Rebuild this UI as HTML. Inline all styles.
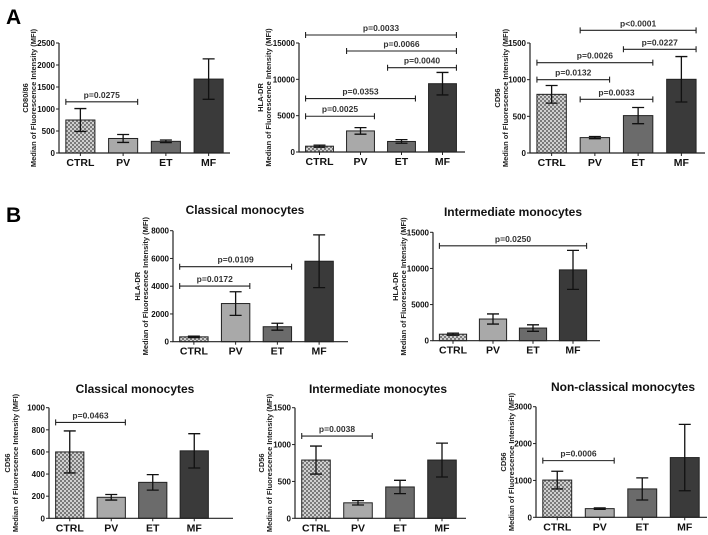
<!DOCTYPE html>
<html><head><meta charset="utf-8">
<style>
html,body{margin:0;padding:0;background:#fff;}
svg{display:block;font-family:"Liberation Sans",Arial,sans-serif;}
</style></head>
<body>
<svg id="fig" width="708" height="535" viewBox="0 0 708 535" xmlns="http://www.w3.org/2000/svg">
<defs>
<pattern id="chk" width="4" height="4" patternUnits="userSpaceOnUse">
<rect width="4" height="4" fill="#d0d0d0"/>
<rect width="2" height="2" fill="#7a7a7a"/>
<rect x="2" y="2" width="2" height="2" fill="#7a7a7a"/>
</pattern>
</defs>
<text x="6" y="24" font-size="21" font-weight="bold">A</text>
<text x="6" y="222" font-size="21" font-weight="bold">B</text>
</svg>
<script>
const categories = ["CTRL","PV","ET","MF"];

const a1Means = [750,330,265,1680];
const a1Errs = [260,90,30,460];
const a1Ticks = [0,500,1000,1500,2000,2500];
const a1Sig = [[0,1,1163,"p=0.0275"]];

const a2Means = [800,2900,1450,9400];
const a2Errs = [150,450,250,1550];
const a2Ticks = [0,5000,10000,15000];
const a2Sig = [[0,3,16100,"p=0.0033"],[1,3,13900,"p=0.0066"],[2,3,11600,"p=0.0040"],[0,2,7360,"p=0.0353"],[0,1,4920,"p=0.0025"]];

const a3Means = [800,210,510,1005];
const a3Errs = [120,15,110,310];
const a3Ticks = [0,500,1000,1500];
const a3Sig = [[1,3,1673,"p<0.0001"],[2,3,1414,"p=0.0227"],[0,2,1232,"p=0.0026"],[0,1,1000,"p=0.0132"],[1,2,732,"p=0.0033"]];

const b1Means = [350,2750,1080,5800];
const b1Errs = [50,850,250,1900];
const b1Ticks = [0,2000,4000,6000,8000];
const b1Sig = [[0,2,5405,"p=0.0109"],[0,1,4011,"p=0.0172"]];

const b2Means = [900,3000,1750,9800];
const b2Errs = [150,700,450,2700];
const b2Ticks = [0,5000,10000,15000];
const b2Sig = [[0,3,13125,"p=0.0250"]];

const c1Means = [600,190,325,610];
const c1Errs = [190,25,70,155];
const c1Ticks = [0,200,400,600,800,1000];
const c1Sig = [[0,1,867,"p=0.0463"]];

const c2Means = [790,210,425,790];
const c2Errs = [190,30,90,230];
const c2Ticks = [0,500,1000,1500];
const c2Sig = [[0,1,1116,"p=0.0038"]];

const c3Means = [1010,235,770,1620];
const c3Errs = [240,20,300,900];
const c3Ticks = [0,1000,2000,3000];
const c3Sig = [[0,1,1537,"p=0.0006"]];

const fills = ["url(#chk)","#a9a9a9","#6b6b6b","#3a3a3a"];
const svg = document.getElementById('fig');
const NS = "http://www.w3.org/2000/svg";
function mk(tag, attrs, parent){const e=document.createElementNS(NS,tag);for(const k in attrs)e.setAttribute(k,attrs[k]);(parent||svg).appendChild(e);return e;}

function panel(id, g, means, errs, ticks, sigs, marker, title){
  const grp = mk('g',{});
  
  
  const max = ticks[ticks.length-1];
  const y = v => g.y0 - (v/max)*(g.y0-g.yTop);
  const slot = g.w/categories.length;
  const cx = i => g.x0 + slot*(i+0.5);
  const bw = slot*0.68;
  means.forEach((m,i)=>{
    const r = mk('rect',{x:cx(i)-bw/2,y:y(m),width:bw,height:g.y0-y(m),fill:fills[i],stroke:'#222','stroke-width':1},grp);
    
    
    const e = mk('path',{d:`M${cx(i)},${y(m+errs[i])}V${y(m-errs[i])}M${cx(i)-6},${y(m+errs[i])}h12M${cx(i)-6},${y(m-errs[i])}h12`,stroke:'#111','stroke-width':1.3,fill:'none'},grp);
    
    
    const t = mk('text',{x:cx(i),y:g.y0+13,'font-size':10.5,'font-weight':'bold','text-anchor':'middle',fill:'#111'},grp);
    t.textContent = categories[i];
    
    
    mk('line',{x1:cx(i),x2:cx(i),y1:g.y0,y2:g.y0+3,stroke:'#222'},grp);
  });
  const ax = mk('path',{d:`M${g.x0},${g.yTop}V${g.y0}H${g.xEnd}`,stroke:'#222','stroke-width':1.2,fill:'none'},grp);
  
  
  ticks.forEach(v=>{
    mk('line',{x1:g.x0-3,x2:g.x0,y1:y(v),y2:y(v),stroke:'#222'},grp);
    const t = mk('text',{x:g.x0-4,y:y(v)+3,'font-size':8,'font-weight':'bold','text-anchor':'end',fill:'#111'},grp);
    t.textContent = v;
    
    
  });
  const my = (g.y0+g.yTop)/2;
  const R = g.x0 - g.tOff + 1;
  const yt = mk('text',{transform:`translate(${R-8},${my}) rotate(-90)`,'font-size':7.5,'font-weight':'bold','text-anchor':'middle',fill:'#222'},grp);
  
  
  const s1 = mk('tspan',{x:0,dy:0},yt); s1.textContent = marker;
  const s2 = mk('tspan',{x:0,dy:8},yt); s2.textContent = "Median of Fluorescence Intensity (MFI)";
  sigs.forEach(s=>{
    const xa = cx(s[0])-bw/2, xb = cx(s[1])+bw/2, yy = y(s[2]);
    const b = mk('path',{d:`M${xa},${yy}H${xb}M${xa},${yy-3}v6M${xb},${yy-3}v6`,stroke:'#222','stroke-width':1.1,fill:'none'},grp);
    
    
    const t = mk('text',{x:(xa+xb)/2,y:yy-4,'font-size':8.5,'font-weight':'bold','text-anchor':'middle',fill:'#333'},grp);
    t.textContent = s[3];
    
    
  });
  if(title){
    const t = mk('text',{x:g.tx,y:g.ty,'font-size':12,'font-weight':'bold','text-anchor':'middle',fill:'#111'},grp);
    t.textContent = title;
    
    
  }
}

panel('a1',{x0:59,w:171,xEnd:230,y0:153,yTop:43,tOff:24},a1Means,a1Errs,a1Ticks,a1Sig,"CD80/86");
panel('a2',{x0:299,w:164,xEnd:465,y0:152,yTop:43,tOff:29},a2Means,a2Errs,a2Ticks,a2Sig,"HLA-DR");
panel('a3',{x0:530,w:173,xEnd:705,y0:153,yTop:43,tOff:23},a3Means,a3Errs,a3Ticks,a3Sig,"CD56");
panel('b1',{x0:173,w:167,xEnd:348,y0:341.7,yTop:230.7,tOff:26,tx:245,ty:214},b1Means,b1Errs,b1Ticks,b1Sig,"HLA-DR","Classical monocytes");
panel('b2',{x0:433,w:160,xEnd:600,y0:340.7,yTop:232.3,tOff:28,tx:513,ty:216},b2Means,b2Errs,b2Ticks,b2Sig,"HLA-DR","Intermediate monocytes");
panel('c1',{x0:49,w:166,xEnd:233,y0:518.3,yTop:407.7,tOff:32,tx:135,ty:393},c1Means,c1Errs,c1Ticks,c1Sig,"CD56","Classical monocytes");
panel('c2',{x0:295,w:168,xEnd:466,y0:518.3,yTop:407.7,tOff:24,tx:378,ty:393},c2Means,c2Errs,c2Ticks,c2Sig,"CD56","Intermediate monocytes");
panel('c3',{x0:536,w:170,xEnd:707,y0:517.3,yTop:406.7,tOff:23,tx:623,ty:391},c3Means,c3Errs,c3Ticks,c3Sig,"CD56","Non-classical monocytes");
</script>
</body></html>
